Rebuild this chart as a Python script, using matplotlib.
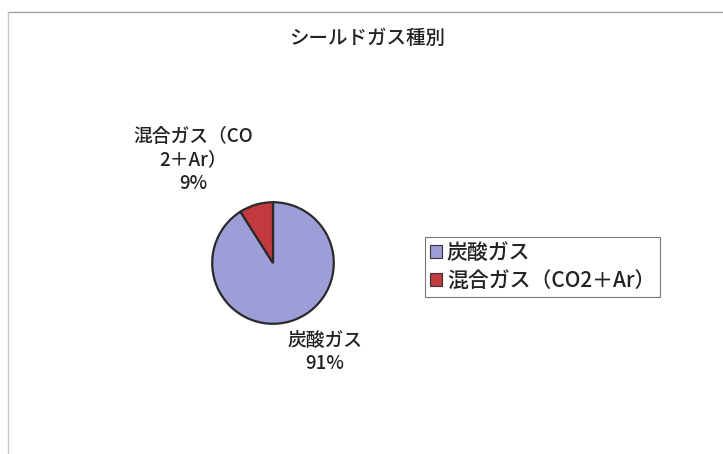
import matplotlib.pyplot as plt
from matplotlib.lines import Line2D
from matplotlib.patches import Patch

plt.rcParams['font.family'] = ['Noto Sans CJK JP', 'DejaVu Sans']

labels = ['炭酸ガス', '混合ガス（CO2＋Ar）']
wedge_labels = ['炭酸ガス\n91%', '混合ガス（CO\n2＋Ar）\n9%']
shares = [91, 9]
colors = ['#9d9dd8', '#c23a3e']

W, H = 723, 454
fig = plt.figure(figsize=(W / 100, H / 100), dpi=100)

# chart-area frame (top and left edges)
fig.add_artist(Line2D([8 / W, 1], [1 - 12 / H, 1 - 12 / H], color='#a0a0a0', lw=1))
fig.add_artist(Line2D([8 / W, 8 / W], [0, 1 - 12 / H], color='#c8c8c8', lw=1))

cx, cy, r = 273, 263, 62
ax = fig.add_axes([(cx - r) / W, (H - cy - r) / H, 2 * r / W, 2 * r / H])
ax.pie(shares, colors=colors, startangle=90, counterclock=False,
       wedgeprops=dict(edgecolor='#2a2a2a', linewidth=1.6))
ax.set_aspect('auto')
ax.set_xlim(-1.02, 1.02)
ax.set_ylim(-1.02, 1.02)

fig.text(367 / W, 1 - 38 / H, 'シールドガス種別', ha='center', va='center',
         fontsize=14, fontweight='medium', color='#222222')

label_pos = [(325, 352), (193, 160)]
for txt, (x, y) in zip(wedge_labels, label_pos):
    fig.text(x / W, 1 - y / H, txt, ha='center', va='center', fontsize=13.5,
             fontweight='medium', color='#222222', linespacing=1.32)

handles = [Patch(facecolor=c, edgecolor='#333333', lw=0.8) for c in colors]
leg = fig.legend(handles, labels, loc='center left',
                 bbox_to_anchor=(425 / W, 1 - 267 / H),
                 prop=dict(size=15, weight='medium'),
                 frameon=True, fancybox=False, edgecolor='#555555',
                 handlelength=0.55, handleheight=0.55, handletextpad=0.25,
                 borderpad=0.25, labelspacing=0.3, borderaxespad=0)
leg.get_frame().set_linewidth(0.8)
for t in leg.get_texts():
    t.set_color('#222222')

fig.savefig('out.png', dpi=100)
